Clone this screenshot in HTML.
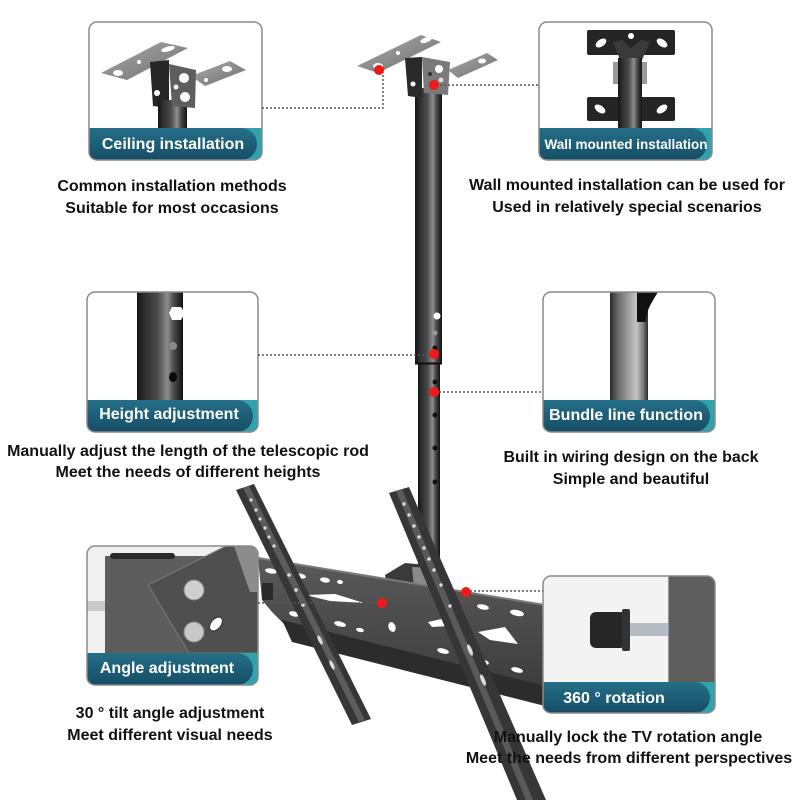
<!DOCTYPE html>
<html><head><meta charset="utf-8"><style>
html,body{margin:0;padding:0;background:#fff;}
svg{display:block;}
text{font-family:"Liberation Sans",Arial,sans-serif;font-weight:bold;}
</style></head><body>
<svg width="800" height="800" viewBox="0 0 800 800" xmlns="http://www.w3.org/2000/svg">
<defs>
 <linearGradient id="gPole" x1="0" x2="1" y1="0" y2="0">
  <stop offset="0" stop-color="#151515"/>
  <stop offset="0.18" stop-color="#2f2f2f"/>
  <stop offset="0.45" stop-color="#4b4b4b"/>
  <stop offset="0.66" stop-color="#8e8e8e"/>
  <stop offset="0.8" stop-color="#4a4a4a"/>
  <stop offset="1" stop-color="#121212"/>
 </linearGradient>
 <linearGradient id="gBar" x1="0" x2="0" y1="0" y2="1">
  <stop offset="0" stop-color="#256f88"/>
  <stop offset="1" stop-color="#164d66"/>
 </linearGradient>
 <linearGradient id="gSteel" x1="0" x2="1" y1="0" y2="1">
  <stop offset="0" stop-color="#ababab"/>
  <stop offset="1" stop-color="#6e6e6e"/>
 </linearGradient>
 <linearGradient id="gPlate" x1="0" x2="0" y1="0" y2="1">
  <stop offset="0" stop-color="#5a5a5a"/>
  <stop offset="1" stop-color="#3c3c3c"/>
 </linearGradient>
 <linearGradient id="gBundle" x1="0" x2="1" y1="0" y2="0">
  <stop offset="0" stop-color="#2a2a2a"/>
  <stop offset="0.2" stop-color="#666"/>
  <stop offset="0.45" stop-color="#9a9a9a"/>
  <stop offset="0.7" stop-color="#c4c4c4"/>
  <stop offset="0.88" stop-color="#777"/>
  <stop offset="1" stop-color="#2a2a2a"/>
 </linearGradient>
 <clipPath id="c1"><rect x="89" y="22" width="173" height="138" rx="8"/></clipPath>
 <clipPath id="c2"><rect x="539" y="22" width="173" height="138" rx="8"/></clipPath>
 <clipPath id="c3"><rect x="87" y="292" width="171" height="140" rx="8"/></clipPath>
 <clipPath id="c4"><rect x="543" y="292" width="172" height="140" rx="8"/></clipPath>
 <clipPath id="c5"><rect x="87" y="546" width="171" height="139" rx="8"/></clipPath>
 <clipPath id="c6"><rect x="543" y="576" width="172" height="137" rx="8"/></clipPath>
</defs>

<rect width="800" height="800" fill="#fff"/>

<!-- ===== Main pole ===== -->
<rect x="415" y="88" width="27" height="276" fill="url(#gPole)"/>
<rect x="418" y="363" width="22" height="212" fill="url(#gPole)"/>
<line x1="415" y1="363.5" x2="442" y2="363.5" stroke="#0e0e0e" stroke-width="2"/>
<circle cx="437" cy="316" r="3.5" fill="#fff"/>
<circle cx="435" cy="333" r="2.5" fill="#999"/>
<circle cx="435" cy="348" r="2.5" fill="#111"/>
<circle cx="435" cy="382" r="2.5" fill="#111"/>
<circle cx="435" cy="415" r="2.5" fill="#111"/>
<circle cx="435" cy="448" r="2.5" fill="#111"/>
<circle cx="435" cy="482" r="2.5" fill="#111"/>

<!-- main top bracket -->
<polygon points="357,66 421,35 441,42 378,73" fill="url(#gSteel)"/>
<ellipse cx="378" cy="66" rx="5" ry="3" fill="#fff"/>
<circle cx="398" cy="53" r="2" fill="#fff"/>
<ellipse cx="426" cy="40" rx="6" ry="2.5" fill="#fff" transform="rotate(-20 426 40)"/>
<polygon points="448,70 487,53 498,60 458,78" fill="url(#gSteel)"/>
<ellipse cx="482" cy="61" rx="4" ry="2.5" fill="#fff"/>
<polygon points="405,58 422,57 422,98 408,96" fill="#2a2a2a"/>
<circle cx="413" cy="84" r="2.5" fill="#fff"/>
<polygon points="422,57 450,62 448,95 424,93" fill="#7a7a7a"/>
<circle cx="439" cy="69" r="4" fill="#fff"/>
<circle cx="430" cy="74" r="2" fill="#333"/>
<circle cx="441" cy="80" r="2.5" fill="#ddd"/>

<!-- ===== TV bracket ===== -->
<!-- joint behind -->
<polygon points="385,575 405,563 438,566 442,592 388,594" fill="#3a3a3a"/>
<polygon points="412,567 438,568 438,588 414,588" fill="#8a8a8a"/>
<!-- plate -->
<polygon points="258,558 545,605 545,692 286,626 272,612 262,600" fill="url(#gPlate)"/>
<line x1="258" y1="558" x2="545" y2="605" stroke="#7a7a7a" stroke-width="2"/>
<polygon points="282,620 545,686 545,706 292,642" fill="#2c2c2c"/>
<rect x="262" y="583" width="11" height="17" fill="#2a2a2a"/>
<g fill="#fff">
 <ellipse cx="271" cy="571" rx="6" ry="2.5" transform="rotate(10 271 571)"/>
 <ellipse cx="300" cy="576" rx="6" ry="2.5" transform="rotate(10 300 576)"/>
 <ellipse cx="325" cy="580" rx="5" ry="2.5" transform="rotate(10 325 580)"/>
 <ellipse cx="340" cy="582" rx="3" ry="2" transform="rotate(10 340 582)"/>
 <ellipse cx="483" cy="607" rx="6" ry="2.5" transform="rotate(12 483 607)"/>
 <ellipse cx="517" cy="613" rx="7" ry="3" transform="rotate(12 517 613)"/>
 <ellipse cx="294" cy="614" rx="5" ry="2.5" transform="rotate(14 294 614)"/>
 <ellipse cx="340" cy="624" rx="6" ry="2.5" transform="rotate(14 340 624)"/>
 <ellipse cx="360" cy="630" rx="4" ry="2" transform="rotate(14 360 630)"/>
 <ellipse cx="443" cy="651" rx="6" ry="2.5" transform="rotate(14 443 651)"/>
 <ellipse cx="483" cy="662" rx="6" ry="2.5" transform="rotate(14 483 662)"/>
 <ellipse cx="517" cy="670" rx="6" ry="2.5" transform="rotate(14 517 670)"/>
 <polygon points="306,595 335,594 364,603 330,601"/>
 <ellipse cx="392" cy="627" rx="3.5" ry="5" transform="rotate(-20 392 627)"/>
 <polygon points="428,622 446,618 448,626 432,627"/>
 <polygon points="478,632 505,627 518,644 490,640"/>
</g>
<!-- left arm -->
<polygon points="236,490 254,484 371,719 352,725" fill="#363636"/>
<polygon points="243,488 249,486 365,720 359,722" fill="#5c5c5c"/>
<g fill="#ddd">
 <circle cx="251" cy="500" r="1.6"/><circle cx="256" cy="510" r="1.6"/><circle cx="260" cy="519" r="1.6"/>
 <circle cx="265" cy="528" r="1.6"/><circle cx="269" cy="537" r="1.6"/><circle cx="274" cy="546" r="1.6"/>
 <circle cx="289" cy="575" r="1.8"/><circle cx="296" cy="590" r="1.8"/><circle cx="303" cy="605" r="1.8"/>
 <ellipse cx="320" cy="640" rx="1.8" ry="5" transform="rotate(-26 320 640)"/>
 <ellipse cx="332" cy="665" rx="1.8" ry="5" transform="rotate(-26 332 665)"/>
</g>
<!-- right arm -->
<polygon points="389,493 409,487 546,800 517,800" fill="#363636"/>
<polygon points="396,491 402,489 533,800 526,800" fill="#5a5a5a"/>
<g fill="#ddd">
 <circle cx="404" cy="504" r="1.7"/><circle cx="409" cy="515" r="1.7"/><circle cx="414" cy="526" r="1.7"/>
 <circle cx="419" cy="537" r="1.7"/><circle cx="424" cy="548" r="1.7"/><circle cx="429" cy="559" r="1.7"/>
 <circle cx="434" cy="570" r="1.7"/><circle cx="441" cy="585" r="1.7"/><circle cx="450" cy="606" r="1.7"/>
 <ellipse cx="470" cy="650" rx="2" ry="6" transform="rotate(-23 470 650)"/>
 <ellipse cx="483" cy="680" rx="2" ry="6" transform="rotate(-23 483 680)"/>
</g>

<!-- ===== Box 1: Ceiling ===== -->
<g clip-path="url(#c1)">
 <rect x="89" y="22" width="173" height="138" fill="#fff"/>
 <polygon points="101,73 161,42 188,48 127,80" fill="url(#gSteel)"/>
 <ellipse cx="118" cy="73" rx="5" ry="3" fill="#fff"/>
 <circle cx="139" cy="62" r="2" fill="#fff"/>
 <ellipse cx="168" cy="49" rx="7" ry="2.5" fill="#fff" transform="rotate(-15 168 49)"/>
 <polygon points="191,76 230,61 246,70 205,86" fill="url(#gSteel)"/>
 <ellipse cx="227" cy="69" rx="5" ry="3" fill="#fff"/>
 <circle cx="206" cy="80" r="2" fill="#fff"/>
 <polygon points="150,62 169,60 169,108 153,106" fill="#262626"/>
 <circle cx="157" cy="93" r="3" fill="#fff"/>
 <rect x="158" y="100" width="29" height="30" fill="url(#gPole)"/>
 <polygon points="169,64 196,70 195,108 172,106" fill="#5e5e5e"/>
 <circle cx="184" cy="78" r="5" fill="#fff"/>
 <circle cx="185" cy="97" r="5" fill="#fff"/>
 <circle cx="176" cy="87" r="2.5" fill="#eee"/>
 <rect x="89" y="128" width="173" height="32" fill="#2fa3ad"/>
 <rect x="70" y="128" width="187" height="32" rx="16" fill="url(#gBar)"/>
</g>
<rect x="89" y="22" width="173" height="138" rx="8" fill="none" stroke="#8a8a8a" stroke-width="1.5"/>
<text x="173" y="149" fill="#fff" font-size="16" text-anchor="middle">Ceiling installation</text>

<!-- ===== Box 2: Wall ===== -->
<g clip-path="url(#c2)">
 <rect x="539" y="22" width="173" height="138" fill="#fff"/>
 <rect x="587" y="30" width="88" height="25" rx="2" fill="#252525"/>
 <ellipse cx="601" cy="43" rx="6" ry="3.5" fill="#fff" transform="rotate(-35 601 43)"/>
 <ellipse cx="662" cy="43" rx="6" ry="3.5" fill="#fff" transform="rotate(35 662 43)"/>
 <circle cx="631" cy="36" r="3" fill="#fff"/>
 <rect x="587" y="97" width="88" height="24" rx="2" fill="#252525"/>
 <ellipse cx="600" cy="109" rx="6" ry="3.5" fill="#fff" transform="rotate(35 600 109)"/>
 <ellipse cx="662" cy="109" rx="6" ry="3.5" fill="#fff" transform="rotate(-35 662 109)"/>
 <rect x="613" y="62" width="34" height="22" fill="#9a9a9a"/>
 <path d="M613,42 L622,40 L631,48 L641,40 L650,42 L642,60 L620,60 Z" fill="#3a3a3a"/>
 <rect x="618" y="58" width="24" height="72" fill="url(#gPole)"/>
 <rect x="539" y="128" width="173" height="32" fill="#2fa3ad"/>
 <rect x="520" y="128" width="187" height="32" rx="16" fill="url(#gBar)"/>
</g>
<rect x="539" y="22" width="173" height="138" rx="8" fill="none" stroke="#8a8a8a" stroke-width="1.5"/>
<text x="626" y="149" fill="#fff" font-size="13.5" text-anchor="middle">Wall mounted installation</text>

<!-- ===== Box 3: Height ===== -->
<g clip-path="url(#c3)">
 <rect x="87" y="292" width="171" height="140" fill="#fff"/>
 <rect x="137" y="292" width="46" height="110" fill="url(#gPole)"/>
 <polygon points="172,307 181,307 185,313 181,320 172,320 169,313" fill="#fff"/>
 <circle cx="173" cy="346" r="4" fill="#8a8a8a"/>
 <ellipse cx="173" cy="377" rx="4" ry="5" fill="#0a0a0a"/>
 <rect x="87" y="400" width="171" height="32" fill="#2fa3ad"/>
 <rect x="68" y="400" width="185" height="32" rx="16" fill="url(#gBar)"/>
</g>
<rect x="87" y="292" width="171" height="140" rx="8" fill="none" stroke="#8a8a8a" stroke-width="1.5"/>
<text x="169" y="419" fill="#fff" font-size="16" text-anchor="middle">Height adjustment</text>

<!-- ===== Box 4: Bundle ===== -->
<g clip-path="url(#c4)">
 <rect x="543" y="292" width="172" height="140" fill="#fff"/>
 <rect x="610" y="292" width="38" height="110" fill="url(#gBundle)"/>
 <path d="M637,292 L658,292 C652,302 646,310 646,322 L637,322 Z" fill="#111"/>
 <rect x="543" y="400" width="172" height="32" fill="#2fa3ad"/>
 <rect x="524" y="400" width="186" height="32" rx="16" fill="url(#gBar)"/>
</g>
<rect x="543" y="292" width="172" height="140" rx="8" fill="none" stroke="#8a8a8a" stroke-width="1.5"/>
<text x="626" y="420" fill="#fff" font-size="16" text-anchor="middle">Bundle line function</text>

<!-- ===== Box 5: Angle ===== -->
<g clip-path="url(#c5)">
 <rect x="87" y="546" width="171" height="139" fill="#f0f0f0"/>
 <rect x="87" y="601" width="19" height="10" fill="#c9c9c9"/>
 <rect x="105" y="556" width="153" height="100" fill="#5d5d5d"/>
 <rect x="110" y="553" width="65" height="6" rx="3" fill="#2a2a2a"/>
 <polygon points="148,585 226,546 258,546 258,653 189,653" fill="#4f4f4f" stroke="#7a7a7a" stroke-width="1"/>
 <polygon points="234,546 258,546 258,592 250,592" fill="#8c8c8c"/>
 <circle cx="194" cy="590" r="10" fill="#cfcfcf" stroke="#888" stroke-width="1"/>
 <circle cx="194" cy="632" r="10" fill="#c8c8c8" stroke="#888" stroke-width="1"/>
 <ellipse cx="216" cy="624" rx="8" ry="5" fill="#fff" stroke="#333" stroke-width="1" transform="rotate(-50 216 624)"/>
 <rect x="87" y="653" width="171" height="32" fill="#2fa3ad"/>
 <rect x="68" y="653" width="185" height="32" rx="16" fill="url(#gBar)"/>
</g>
<rect x="87" y="546" width="171" height="139" rx="8" fill="none" stroke="#8a8a8a" stroke-width="1.5"/>
<text x="167" y="673" fill="#fff" font-size="16" text-anchor="middle">Angle adjustment</text>

<!-- ===== Box 6: 360 ===== -->
<g clip-path="url(#c6)">
 <rect x="543" y="576" width="172" height="137" fill="#f3f3f3"/>
 <rect x="668" y="576" width="47" height="137" fill="#5e5e5e"/>
 <line x1="668.5" y1="576" x2="668.5" y2="713" stroke="#999" stroke-width="1"/>
 <rect x="626" y="623" width="42" height="13" fill="#b5bcc4"/>
 <rect x="590" y="612" width="36" height="36" rx="6" fill="#262626"/>
 <rect x="622" y="609" width="8" height="42" rx="2" fill="#333"/>
 <rect x="543" y="682" width="172" height="31" fill="#2fa3ad"/>
 <rect x="524" y="682" width="186" height="31" rx="15.5" fill="url(#gBar)"/>
</g>
<rect x="543" y="576" width="172" height="137" rx="8" fill="none" stroke="#8a8a8a" stroke-width="1.5"/>
<text x="614" y="703" fill="#fff" font-size="16" text-anchor="middle">360 ° rotation</text>

<!-- ===== dotted connectors ===== -->
<g fill="none" stroke="#555" stroke-width="1.5" stroke-dasharray="2 2">
 <path d="M262,108 H383 V72"/>
 <path d="M440,85 H539"/>
 <path d="M258,355 H430"/>
 <path d="M439,392 H543"/>
 <path d="M258,603 H378"/>
 <path d="M470,591 H543"/>
</g>
<g fill="#f01818">
 <circle cx="379" cy="70" r="5"/>
 <circle cx="434" cy="85" r="5"/>
 <circle cx="434" cy="354" r="5"/>
 <circle cx="434" cy="392" r="5"/>
 <circle cx="382" cy="603" r="5"/>
 <circle cx="466" cy="592" r="5"/>
</g>

<!-- ===== descriptions ===== -->
<g fill="#111" font-size="16" text-anchor="middle">
 <text x="172" y="191">Common installation methods</text>
 <text x="172" y="213">Suitable for most occasions</text>
 <text x="627" y="190">Wall mounted installation can be used for</text>
 <text x="627" y="212">Used in relatively special scenarios</text>
 <text x="188" y="456">Manually adjust the length of the telescopic rod</text>
 <text x="188" y="477">Meet the needs of different heights</text>
 <text x="631" y="462">Built in wiring design on the back</text>
 <text x="631" y="484">Simple and beautiful</text>
 <text x="170" y="718">30 ° tilt angle adjustment</text>
 <text x="170" y="740">Meet different visual needs</text>
 <text x="628" y="742">Manually lock the TV rotation angle</text>
 <text x="629" y="763">Meet the needs from different perspectives</text>
</g>
</svg>
</body></html>
